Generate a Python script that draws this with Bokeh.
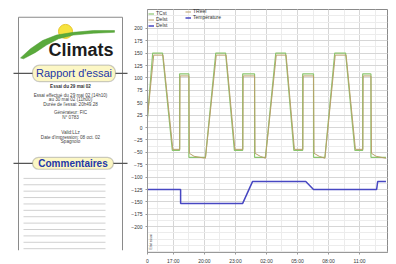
import math
from bokeh.plotting import figure
from bokeh.models import (Range1d, FixedTicker, Legend, LegendItem, Label, BoxAnnotation)
from bokeh.layouts import row
from bokeh.embed import file_html
from bokeh.resources import INLINE
from bokeh.core.properties import value

# ---------------- data (hours since start, °C) ----------------
t_set = [0.0, 0.5, 1.45, 2.4, 3.1, 3.1, 4.0, 4.0, 5.6, 6.6, 7.55, 8.4, 9.2, 9.2, 10.35, 10.35,
         11.4, 12.4, 13.35, 14.15, 15.0, 15.0, 16.05, 16.05, 17.15, 18.1, 19.15, 20.05, 20.8, 20.8,
         21.6, 21.6, 23.05]
v_set = [20, 150, 150, -46, -46, 108, 108, -60, -60, 150, 150, -46, -46, 108, 108, -60,
         -60, 150, 150, -46, -46, 108, 108, -60, -60, 150, 150, -46, -46, 108,
         108, -60, -60]
t_real = [0.0, 0.6, 1.5, 2.45, 3.12, 3.15, 4.0, 4.05, 4.5, 5.6, 6.65, 7.6, 8.45, 9.22, 9.25, 10.35,
          10.4, 10.9, 11.4, 12.45, 13.4, 14.2, 15.02, 15.05, 16.05, 16.1, 16.6, 17.15, 18.15, 19.2,
          20.1, 20.82, 20.85, 21.6, 21.65, 22.1, 23.05]
v_real = [22, 146, 146, -44, -44, 104, 104, -52, -58, -62, 146, 146, -44, -44, 104, 104,
          -52, -58, -62, 146, 146, -44, -44, 104, 104, -52, -58, -62, 146, 146,
          -44, -44, 104, 104, -52, -58, -62]
t_blue = [0.0, 3.2, 3.2, 9.2, 10.15, 15.3, 16.05, 22.15, 22.25, 23.05]
v_blue = [-125, -125, -153, -153, -109, -109, -125, -125, -109, -109]

x_ticks = [0, 2.5, 5.5, 8.5, 11.5, 14.5, 17.5, 20.5]
x_tick_labels = ["0", "17:00", "20:00", "23:00", "02:00", "05:00", "08:00", "11:00"]
y_ticks = list(range(-200, 201, 25))
legend_col1 = ["TCst", "Delst", "Delst"]
legend_col2 = ["TReel", "Température"]

report_lines = ["Essai du 29 mai 02",
                "Essai effectué du 29 mai 02 (14h10)",
                "au 30 mai 02 (11h00)",
                "Durée de l'essai: 20h49.28",
                "Générateur: FIC",
                "N° 0783",
                "Valid:LLz",
                "Date d'impression: 08 oct. 02",
                "Spagnolo"]
report_y = [84, 94, 99, 104, 113, 118, 135, 140, 145]

FONT = "Liberation Sans"

# ---------------- left report panel (page pixel coordinates) ----------------
pnl = figure(width=128, height=264, x_range=Range1d(0, 128), y_range=Range1d(264, 0),
             output_backend="svg", toolbar_location=None, x_axis_type=None, y_axis_type=None,
             min_border=0, outline_line_color=None)
pnl.segment(x0=[18, 122, 18], y0=[8.5, 8.5, 8.5], x1=[18, 122, 122], y1=[264, 264, 8.5],
            line_color="#8a8a8a", line_width=1)
pnl.segment(x0=[13, 13], y0=[70, 168.5], x1=[127, 127], y1=[70, 168.5],
            line_color="#555555", line_width=1.2)
cy = [185 + 7 * k for k in range(12)]
pnl.segment(x0=[23] * len(cy), y0=cy, x1=[105] * len(cy), y1=cy, line_color="#d0d0d0", line_width=1)

# logo
pnl.circle(x=[65], y=[24], radius=7, fill_color="#f6e33e", line_color="#e6c52a", line_width=1)
sw_x = [20, 30, 42, 56, 73, 93, 114, 114, 93, 73, 58, 46, 35, 23]
sw_y = [53, 43, 34, 28, 25, 23, 23, 25, 26, 28, 32, 39, 47, 54]
pnl.patch(sw_x, sw_y, fill_color="#5aaa3c", line_color="#4c9a30", line_width=0.5)
pnl.add_layout(Label(x=48, y=44, text="Climats", text_font=FONT, text_font_size="18px",
                     text_font_style="bold", text_color="#1c1c1c", text_baseline="alphabetic"))

pnl.add_layout(BoxAnnotation(left=32, right=115, top=61, bottom=79, fill_color="#fcf7c5",
                             fill_alpha=1, line_color="#555555", line_width=1.2, border_radius=7))
pnl.add_layout(Label(x=73.5, y=70, text="Rapport d'essai", text_font=FONT, text_font_size="11px",
                     text_color="#2438a8", text_align="center", text_baseline="middle"))
pnl.add_layout(BoxAnnotation(left=32, right=113, top=162, bottom=175, fill_color="#fcf7c5",
                             fill_alpha=1, line_color="#555555", line_width=1.2, border_radius=6))
pnl.add_layout(Label(x=72.5, y=168.5, text="Commentaires", text_font=FONT, text_font_size="10px",
                     text_font_style="bold", text_color="#2438a8", text_align="center",
                     text_baseline="middle"))

pnl.text(x=[70] * (len(report_lines) - 1), y=report_y[1:], text=report_lines[1:],
         text_font=value(FONT), text_font_size="4.6px", text_color="#444444",
         text_align="center", text_baseline="middle")
pnl.text(x=[70], y=[report_y[0]], text=[report_lines[0]], text_font=value(FONT),
         text_font_size="4.6px", text_color="#333333", text_align="center",
         text_baseline="middle", text_font_style="bold")

# ---------------- chart ----------------
c = figure(frame_width=240, frame_height=243, output_backend="svg", toolbar_location=None,
           x_range=Range1d(0, 23.2), y_range=Range1d(-252, 238),
           min_border_left=17, min_border_right=11, min_border_top=9, min_border_bottom=12)
c.background_fill_color = "white"
c.outline_line_color = "#8a8a8a"

green = c.line(t_set, v_set, line_color="#8cc56e", line_width=1.2)
real = c.line(t_real, v_real, line_color="#b9a06a", line_width=1)
blue = c.line(t_blue, v_blue, line_color="#4747c2", line_width=1.5)

c.xaxis.ticker = FixedTicker(ticks=x_ticks, minor_ticks=[1.0 + 1.5 * k for k in range(15)])
c.xaxis.major_label_overrides = {t: s for t, s in zip(x_ticks, x_tick_labels)}
c.yaxis.ticker = FixedTicker(ticks=y_ticks, minor_ticks=[-262.5 + 12.5 * k for k in range(40)])
for ax in (c.xaxis, c.yaxis):
    ax.major_label_text_font_size = "5px"
    ax.major_label_text_font = FONT
    ax.major_label_text_color = "#333333"
    ax.axis_line_color = "#999999"
    ax.major_tick_line_color = "#999999"
    ax.major_tick_out = 2
    ax.major_tick_in = 0
    ax.minor_tick_line_color = None
    ax.major_label_standoff = 1
c.xgrid.grid_line_color = "#d6d6d6"
c.ygrid.grid_line_color = "#d6d6d6"
c.xgrid.minor_grid_line_color = "#ececec"
c.ygrid.minor_grid_line_color = "#ececec"

leg_kw = dict(label_text_font_size="5px", label_height=5, glyph_height=5, glyph_width=6,
              label_standoff=2, spacing=0, padding=0, margin=1, background_fill_alpha=0,
              border_line_alpha=0, label_text_font=FONT, label_text_color="#333333")
leg1 = Legend(items=[LegendItem(label=legend_col1[0], renderers=[green]),
                     LegendItem(label=legend_col1[1], renderers=[real]),
                     LegendItem(label=legend_col1[2], renderers=[blue])],
              location="top_left", **leg_kw)
leg2 = Legend(items=[LegendItem(label=legend_col2[0], renderers=[real]),
                     LegendItem(label=legend_col2[1], renderers=[blue])],
              location=(38, 232), **leg_kw)
c.add_layout(leg1)
c.add_layout(leg2)

c.add_layout(Label(x=-1.35, y=228, text="°C", text_font=FONT, text_font_size="9px",
                   text_font_style="bold", text_baseline="middle", text_color="#222222"))
c.add_layout(Label(x=-1.3, y=-244, text="Ls", text_font=FONT, text_font_size="10px",
                   text_font_style="bold", text_baseline="middle", text_color="#2b3fb0"))
c.add_layout(Label(x=0.3, y=-246, text="Etat essai", text_font=FONT, text_font_size="3.5px",
                   angle=math.pi / 2, text_baseline="middle", text_color="#444444"))

layout = row(pnl, c)
open("out.html", "w").write(file_html(layout, INLINE))
